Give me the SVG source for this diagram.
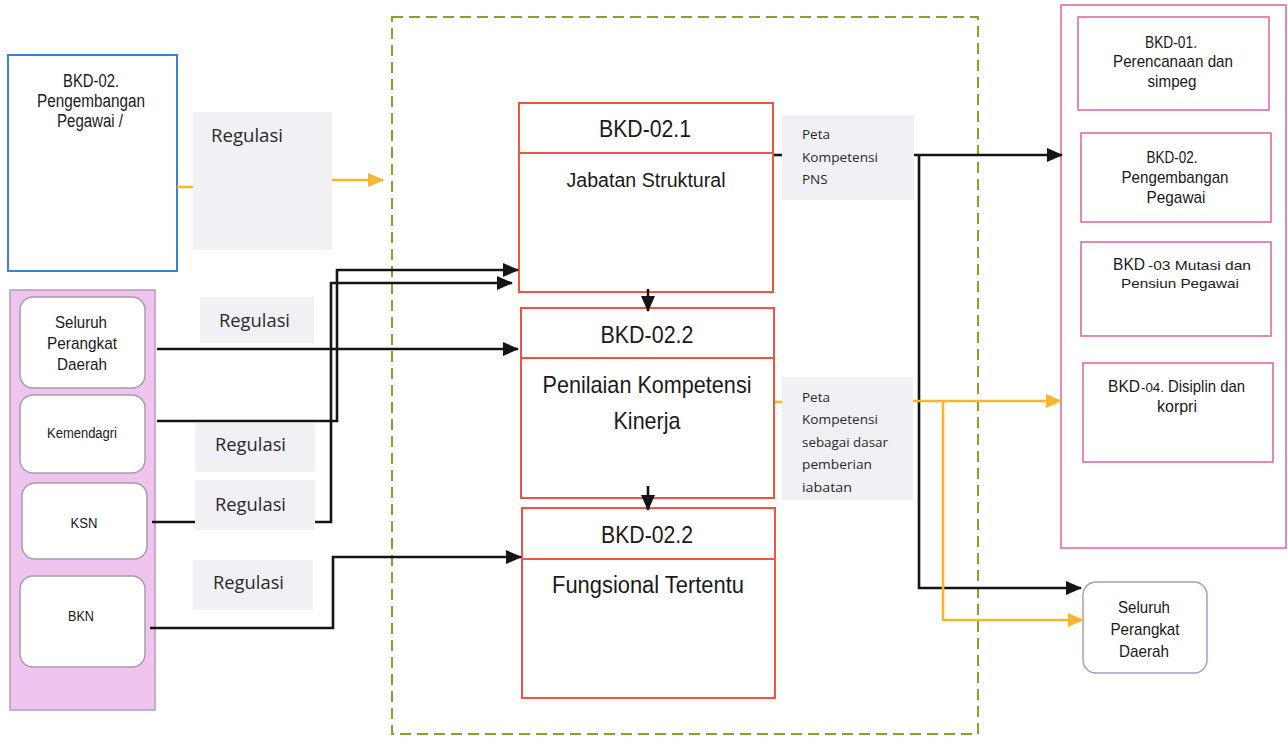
<svg xmlns="http://www.w3.org/2000/svg" width="1288" height="739" viewBox="0 0 1288 739">
<style>
.t{font-family:"Liberation Sans",Arial,sans-serif;fill:#1a1a1a;text-anchor:middle}
.s{font-family:"Liberation Sans",Arial,sans-serif;fill:#1a1a1a}
.c{font-family:"Open Sans","Noto Sans",sans-serif;fill:#2a2a2a}
.lbl{fill:#f1f0f4}
.rb{fill:#fff;stroke:#e26aa8;stroke-width:1.6}
.cb{fill:#fff;stroke:#f0533f;stroke-width:2}
.ib{fill:#fff;stroke:#a89ca8;stroke-width:1.5}
.k{fill:none;stroke:#151515;stroke-width:2.6}
.o{fill:none;stroke:#f8b52e;stroke-width:2.6}
</style>
<defs>
<marker id="ak" markerUnits="userSpaceOnUse" markerWidth="16" markerHeight="14" refX="15" refY="7" orient="auto"><path d="M0,0 L16,7 L0,14 z" fill="#151515"/></marker>
<marker id="ao" markerUnits="userSpaceOnUse" markerWidth="16" markerHeight="14" refX="15" refY="7" orient="auto"><path d="M0,0 L16,7 L0,14 z" fill="#f8b52e"/></marker>
</defs>
<rect width="1288" height="739" fill="#fff"/>

<g id="scope">
<rect x="392" y="17" width="586" height="717" fill="none" stroke="#8e9f2c" stroke-width="2" stroke-dasharray="11 6"/>
</g>

<g id="left-group">
<rect x="10" y="290" width="145" height="420" fill="#efc4ef" stroke="#b99cb9" stroke-width="1.5"/>
</g>
<g id="right-group">
<rect x="1061" y="5" width="225" height="543" class="rb"/>
</g>

<g id="bkd02-pengembangan">
<rect x="8" y="55" width="169" height="216" fill="#fff" stroke="#3a7fd8" stroke-width="2"/>
<text class="t" x="91" y="87" font-size="18" textLength="56" lengthAdjust="spacingAndGlyphs">BKD-02.</text>
<text class="t" x="91" y="107" font-size="18" textLength="108" lengthAdjust="spacingAndGlyphs">Pengembangan</text>
<text class="t" x="90" y="127" font-size="18" textLength="66" lengthAdjust="spacingAndGlyphs">Pegawai /</text>
</g>

<g id="seluruh-left">
<rect x="20" y="297" width="125" height="91" rx="13" class="ib"/>
<text class="t" x="81" y="328" font-size="17" textLength="52" lengthAdjust="spacingAndGlyphs">Seluruh</text>
<text class="t" x="82" y="349" font-size="17" textLength="70" lengthAdjust="spacingAndGlyphs">Perangkat</text>
<text class="t" x="82" y="370" font-size="17" textLength="50" lengthAdjust="spacingAndGlyphs">Daerah</text>
</g>
<g id="kemendagri">
<rect x="20" y="395" width="125" height="78" rx="13" class="ib"/>
<text class="t" x="82" y="438" font-size="14" textLength="70" lengthAdjust="spacingAndGlyphs">Kemendagri</text>
</g>
<g id="ksn">
<rect x="22" y="483" width="125" height="76" rx="13" class="ib"/>
<text class="t" x="84" y="528" font-size="14" textLength="27" lengthAdjust="spacingAndGlyphs">KSN</text>
</g>
<g id="bkn">
<rect x="20" y="576" width="125" height="91" rx="13" class="ib"/>
<text class="t" x="81" y="621" font-size="14" textLength="26" lengthAdjust="spacingAndGlyphs">BKN</text>
</g>

<g id="bkd021">
<rect x="519" y="103" width="254" height="189" class="cb"/>
<line x1="519" y1="153" x2="773" y2="153" stroke="#f0533f" stroke-width="2"/>
<text class="t" x="645" y="137" font-size="24" textLength="92" lengthAdjust="spacingAndGlyphs">BKD-02.1</text>
<text class="t" x="646" y="187" font-size="20" textLength="159" lengthAdjust="spacingAndGlyphs">Jabatan Struktural</text>
</g>
<g id="bkd022-penilaian">
<rect x="521" y="308" width="253" height="190" class="cb"/>
<line x1="521" y1="358" x2="774" y2="358" stroke="#f0533f" stroke-width="2"/>
<text class="t" x="647" y="343" font-size="24" textLength="93" lengthAdjust="spacingAndGlyphs">BKD-02.2</text>
<text class="t" x="647" y="393" font-size="24" textLength="209" lengthAdjust="spacingAndGlyphs">Penilaian Kompetensi</text>
<text class="t" x="647" y="429" font-size="24" textLength="67" lengthAdjust="spacingAndGlyphs">Kinerja</text>
</g>
<g id="bkd022-fungsional">
<rect x="522" y="508" width="253" height="190" class="cb"/>
<line x1="522" y1="559" x2="775" y2="559" stroke="#f0533f" stroke-width="2"/>
<text class="t" x="647" y="543" font-size="24" textLength="92" lengthAdjust="spacingAndGlyphs">BKD-02.2</text>
<text class="t" x="648" y="593" font-size="23" textLength="192" lengthAdjust="spacingAndGlyphs">Fungsional Tertentu</text>
</g>

<g id="bkd01">
<rect x="1078" y="17" width="191" height="93" class="rb"/>
<text class="t" x="1171" y="48" font-size="17" textLength="52" lengthAdjust="spacingAndGlyphs">BKD-01.</text>
<text class="t" x="1173" y="67" font-size="17" textLength="120" lengthAdjust="spacingAndGlyphs">Perencanaan dan</text>
<text class="t" x="1172" y="87" font-size="17" textLength="49" lengthAdjust="spacingAndGlyphs">simpeg</text>
</g>
<g id="bkd02">
<rect x="1081" y="133" width="190" height="89" class="rb"/>
<text class="t" x="1172" y="163" font-size="17" textLength="51" lengthAdjust="spacingAndGlyphs">BKD-02.</text>
<text class="t" x="1175" y="183" font-size="17" textLength="107" lengthAdjust="spacingAndGlyphs">Pengembangan</text>
<text class="t" x="1176" y="203" font-size="17" textLength="59" lengthAdjust="spacingAndGlyphs">Pegawai</text>
</g>
<g id="bkd03">
<rect x="1081" y="242" width="190" height="94" class="rb"/>
<text class="s" x="1113" y="270" font-size="17" textLength="32" lengthAdjust="spacingAndGlyphs">BKD</text>
<text class="s" x="1148" y="270" font-size="13" textLength="103" lengthAdjust="spacingAndGlyphs">-03 Mutasi dan</text>
<text class="t" x="1180" y="288" font-size="13" textLength="118" lengthAdjust="spacingAndGlyphs">Pensiun Pegawai</text>
</g>
<g id="bkd04">
<rect x="1083" y="363" width="190" height="99" class="rb"/>
<text class="s" x="1108" y="392" font-size="17" textLength="32" lengthAdjust="spacingAndGlyphs">BKD</text>
<text class="s" x="1141" y="392" font-size="13" textLength="23" lengthAdjust="spacingAndGlyphs">-04.</text>
<text class="s" x="1168" y="392" font-size="17" textLength="77" lengthAdjust="spacingAndGlyphs">Disiplin dan</text>
<text class="t" x="1177" y="412" font-size="17" textLength="40" lengthAdjust="spacingAndGlyphs">korpri</text>
</g>

<g id="seluruh-right">
<rect x="1083" y="582" width="124" height="91" rx="13" fill="#fff" stroke="#a99cc2" stroke-width="1.5"/>
<text class="t" x="1144" y="613" font-size="17" textLength="52" lengthAdjust="spacingAndGlyphs">Seluruh</text>
<text class="t" x="1145" y="635" font-size="17" textLength="69" lengthAdjust="spacingAndGlyphs">Perangkat</text>
<text class="t" x="1144" y="657" font-size="17" textLength="50" lengthAdjust="spacingAndGlyphs">Daerah</text>
</g>

<g id="connectors">
<line class="o" x1="177" y1="187" x2="200" y2="187"/>
<line class="o" x1="320" y1="180" x2="383" y2="180" marker-end="url(#ao)"/>
<line class="k" x1="157" y1="349" x2="518" y2="349" marker-end="url(#ak)"/>
<polyline class="k" points="157,421 337,421 337,270 518,270" marker-end="url(#ak)"/>
<polyline class="k" points="152,522 331,522 331,283 512,283" marker-end="url(#ak)"/>
<polyline class="k" points="150,628 333,628 333,557 521,557" marker-end="url(#ak)"/>
<line class="k" x1="648" y1="289" x2="648" y2="311" marker-end="url(#ak)"/>
<line class="k" x1="648" y1="486" x2="648" y2="510" marker-end="url(#ak)"/>
<line class="k" x1="774" y1="155" x2="800" y2="155"/>
<line class="k" x1="905" y1="155" x2="1062" y2="155" marker-end="url(#ak)"/>
<polyline class="k" points="919,155 919,588 1081,588" marker-end="url(#ak)"/>
<line class="o" x1="775" y1="402" x2="800" y2="402"/>
<line class="o" x1="905" y1="401" x2="1061" y2="401" marker-end="url(#ao)"/>
<polyline class="o" points="943,401 943,620 1083,620" marker-end="url(#ao)"/>
</g>

<g id="reg-top">
<rect x="193" y="112" width="139" height="138" class="lbl"/>
<text class="c" x="211" y="142" font-size="18" textLength="72" lengthAdjust="spacingAndGlyphs">Regulasi</text>
</g>
<g id="reg-1">
<rect x="200" y="297" width="114" height="46" class="lbl"/>
<text class="c" x="219" y="327" font-size="18" textLength="71" lengthAdjust="spacingAndGlyphs">Regulasi</text>
</g>
<g id="reg-2">
<rect x="195" y="423" width="120" height="49" class="lbl"/>
<text class="c" x="215" y="451" font-size="18" textLength="71" lengthAdjust="spacingAndGlyphs">Regulasi</text>
</g>
<g id="reg-3">
<rect x="195" y="480" width="120" height="50" class="lbl"/>
<text class="c" x="215" y="511" font-size="18" textLength="71" lengthAdjust="spacingAndGlyphs">Regulasi</text>
</g>
<g id="reg-4">
<rect x="193" y="560" width="120" height="50" class="lbl"/>
<text class="c" x="213" y="589" font-size="18" textLength="71" lengthAdjust="spacingAndGlyphs">Regulasi</text>
</g>

<g id="peta-pns">
<rect x="782" y="115" width="132" height="85" class="lbl"/>
<text class="c" x="802" y="139" font-size="13.5">Peta</text>
<text class="c" x="802" y="162" font-size="13.5" textLength="76" lengthAdjust="spacingAndGlyphs">Kompetensi</text>
<text class="c" x="802" y="184" font-size="13.5">PNS</text>
</g>
<g id="peta-dasar">
<rect x="782" y="377" width="131" height="123" class="lbl"/>
<text class="c" x="802" y="402" font-size="13.5">Peta</text>
<text class="c" x="802" y="424" font-size="13.5" textLength="76" lengthAdjust="spacingAndGlyphs">Kompetensi</text>
<text class="c" x="802" y="447" font-size="13.5" textLength="86" lengthAdjust="spacingAndGlyphs">sebagai dasar</text>
<text class="c" x="802" y="469" font-size="13.5" textLength="70" lengthAdjust="spacingAndGlyphs">pemberian</text>
<text class="c" x="802" y="492" font-size="13.5" textLength="50" lengthAdjust="spacingAndGlyphs">iabatan</text>
</g>
</svg>
